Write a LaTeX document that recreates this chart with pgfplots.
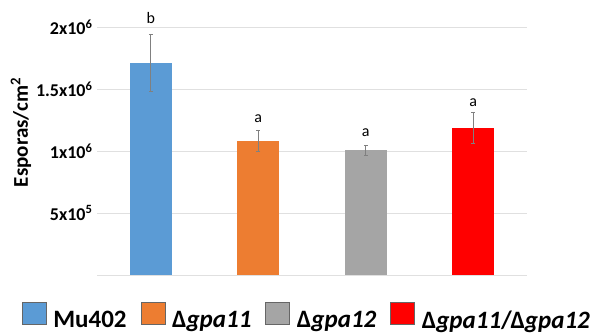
\documentclass[border=0pt]{standalone}
\usepackage{pgfplots}
\pgfplotsset{compat=1.18}
\usepackage{fontspec}
\setmainfont{Carlito}
\definecolor{cblue}{HTML}{5B9BD5}
\definecolor{corange}{HTML}{ED7D31}
\definecolor{cgray}{HTML}{A5A5A5}
\definecolor{cred}{HTML}{FF0000}
\begin{document}
\begin{tikzpicture}
\begin{axis}[
  name=ax,
  at={(0,0)}, anchor=south west,
  width=430pt, height=248pt, scale only axis,
  ybar, bar width=42pt,
  xmin=-0.5, xmax=3.5, ymin=0, ymax=2e6,
  clip=false,
  axis line style={draw=none},
  xtick=\empty,
  ytick={0,5e5,1e6,1.5e6,2e6},
  yticklabels={,5x10\textsuperscript{5},1x10\textsuperscript{6},1.5x10\textsuperscript{6},2x10\textsuperscript{6}},
  scaled y ticks=false,
  ymajorgrids, major grid style={draw=black!12, line width=0.8pt},
  major tick length=0pt,
  yticklabel style={font=\fontsize{18}{20}\selectfont\bfseries, xshift=-1pt},
  ylabel={\bfseries Esporas/cm\textsuperscript{2}},
  ylabel style={font=\fontsize{21}{23}\selectfont, at={(ticklabel cs:0.575)}, yshift=-2pt},
  error bars/error bar style={draw=gray, line width=0.6pt},
  error bars/error mark options={rotate=90, mark size=2pt, draw=gray, line width=0.6pt},
  legend columns=4,
  legend style={at={(0.488,-0.168)}, anchor=center, draw=none, fill=none, inner sep=0pt,
    font=\fontsize{25}{27}\selectfont\bfseries,
    /tikz/every odd column/.append style={column sep=5pt},
    /tikz/every even column/.append style={column sep=12pt}},
  legend image code/.code={\draw[#1,draw=gray!80!black,line width=0.5pt] (0pt,-4pt) rectangle (24pt,18pt);},
]
\addplot[fill=cblue, draw=none, bar shift=0pt, error bars/.cd, y dir=both, y explicit]
  coordinates {(0,1.71e6) +- (0,0.23e6)};
\addlegendentry{Mu402}
\addplot[fill=corange, draw=none, bar shift=0pt, error bars/.cd, y dir=both, y explicit]
  coordinates {(1,1.08e6) +- (0,0.085e6)};
\addlegendentry{Δ\textit{gpa11}}
\addplot[fill=cgray, draw=none, bar shift=0pt, error bars/.cd, y dir=both, y explicit]
  coordinates {(2,1.008e6) +- (0,0.04e6)};
\addlegendentry{Δ\textit{gpa12}}
\addplot[fill=cred, draw=none, bar shift=0pt, error bars/.cd, y dir=both, y explicit]
  coordinates {(3,1.188e6) +- (0,0.125e6)};
\addlegendentry{Δ\textit{gpa11}/Δ\textit{gpa12}}
\node[font=\fontsize{16}{18}\selectfont] at (axis cs:0,2.07e6) {b};
\node[font=\fontsize{16}{18}\selectfont] at (axis cs:1,1.258e6) {a};
\node[font=\fontsize{16}{18}\selectfont] at (axis cs:2,1.148e6) {a};
\node[font=\fontsize{16}{18}\selectfont] at (axis cs:3,1.387e6) {a};
\end{axis}
\pgfresetboundingbox
\useasboundingbox ([xshift=-97pt,yshift=-60pt]ax.south west) rectangle ([xshift=69pt,yshift=27pt]ax.north east);
\end{tikzpicture}
\end{document}
